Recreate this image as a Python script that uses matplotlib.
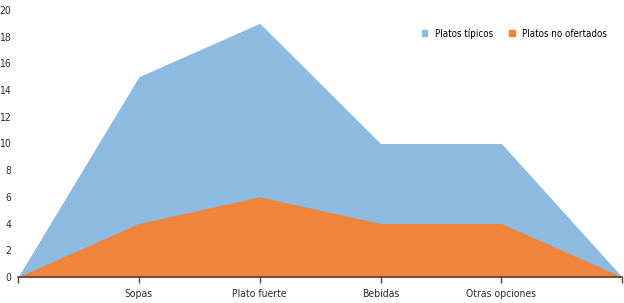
import matplotlib.pyplot as plt
from matplotlib.patches import Patch
from matplotlib import font_manager

names = {f.name for f in font_manager.fontManager.ttflist}
if 'Liberation Sans Narrow' in names:
    plt.rcParams['font.family'] = ['Liberation Sans Narrow', 'DejaVu Sans']
else:
    plt.rcParams['font.family'] = ['DejaVu Sans']
    plt.rcParams['font.stretch'] = 'condensed'

categories = ['', 'Sopas', 'Plato fuerte', 'Bebidas', 'Otras opciones', '']
platos_tipicos = [0, 15, 19, 10, 10, 0]
platos_no_ofertados = [0, 4, 6, 4, 4, 0]

BLUE = '#8dbae0'
ORANGE = '#f0843b'
AXIS = '#5b3f2e'
TEXT = '#2b2b2b'

fig = plt.figure(figsize=(6.24, 3.03), dpi=100)
ax = fig.add_axes([0.029, 0.086, 0.968, 0.881])

x = list(range(len(categories)))
ax.fill_between(x, platos_tipicos, color=BLUE, linewidth=0)
ax.fill_between(x, platos_no_ofertados, color=ORANGE, linewidth=0)

ax.set_xlim(0, len(categories) - 1)
ax.set_ylim(0, 20)
ax.set_xticks(x)
ax.set_xticklabels(categories, fontsize=7.5, color=TEXT)
ax.set_yticks(range(0, 21, 2))
ax.tick_params(axis='y', length=0, labelsize=7.5, labelcolor=TEXT, pad=5)
ax.tick_params(axis='x', length=4, width=1, color=AXIS, pad=5)

for s in ['top', 'right', 'left']:
    ax.spines[s].set_visible(False)
ax.spines['bottom'].set_color(AXIS)
ax.spines['bottom'].set_linewidth(1.2)

handles = [Patch(color=BLUE, label='Platos típicos'),
           Patch(color=ORANGE, label='Platos no ofertados')]
ax.legend(handles=handles, loc='upper right', bbox_to_anchor=(0.99, 0.965), ncol=2,
          frameon=False, fontsize=7, handlelength=0.6, handleheight=0.6,
          handletextpad=0.8, columnspacing=1.6)

fig.savefig('out.png', dpi=100)
